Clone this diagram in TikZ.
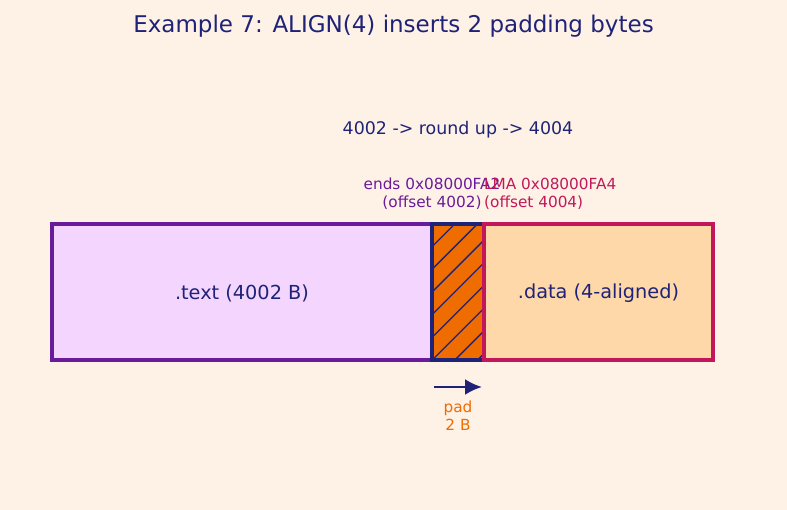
\documentclass[tikz,border=0pt]{standalone}
\usepackage{fontspec}
\usetikzlibrary{arrows.meta}
\setmainfont{DejaVu Sans}
\definecolor{bg}{HTML}{FEF1E6}
\definecolor{navy}{HTML}{1F2378}
\definecolor{purp}{HTML}{6A1B9A}
\definecolor{lilac}{HTML}{F3D5FE}
\definecolor{orng}{HTML}{EF6C00}
\definecolor{crim}{HTML}{C2185B}
\definecolor{peach}{HTML}{FED8A8}
\begin{document}
\begin{tikzpicture}[x=1pt,y=-1pt,
  box/.style={line width=3.5pt,line join=miter},
  lbl/.style={font=\fontsize{15.3}{18}\selectfont,align=center,inner sep=0pt}]
\useasboundingbox[fill=bg] (0,0) rectangle (787,510);
\node[text=navy,font=\fontsize{23}{27}\selectfont] (title) at (393.5,26.5) {Example 7: ALIGN(4) inserts 2 padding bytes};
\node[text=navy,lbl,font=\fontsize{17.4}{20}\selectfont] (round) at (458,130) {4002 -> round up -> 4004};
% boxes
\path[box,draw=purp,fill=lilac] (52,224) rectangle (432,360);
\node[text=navy,font=\fontsize{19.3}{22}\selectfont] (text) at (242,293) {.text (4002 B)};
\path[fill=orng] (432,224) rectangle (484,360);
\begin{scope}
\clip (432,224) rectangle (484,360);
\foreach \k in {0,...,9}{
  \draw[navy,line width=1.3pt] (432,{224+22.7*\k}) -- ++(80,-80);
}
\end{scope}
\path[box,draw=navy] (432,224) rectangle (484,360);
\path[box,draw=crim,fill=peach] (484,224) rectangle (713,360);
\node[text=navy,font=\fontsize{19.3}{22}\selectfont] (data) at (598.5,293) {.data (4-aligned)};
% labels
\node[lbl,text=purp] (ends) at (432,194) {ends 0x08000FA2\\(offset 4002)};
\node[lbl,text=crim,align=left,anchor=west] (lma) at (484,194) {LMA 0x08000FA4\\(offset 4004)};
% arrow
\coordinate (a1) at (434,387);
\coordinate (a2) at (482,387);
\draw[navy,line width=2.6pt,-{Latex[length=17pt,width=16pt]}] (a1) -- (a2);
\node[lbl,text=orng] (pad) at (458,415.5) {pad\\2 B};
\end{tikzpicture}
\end{document}
